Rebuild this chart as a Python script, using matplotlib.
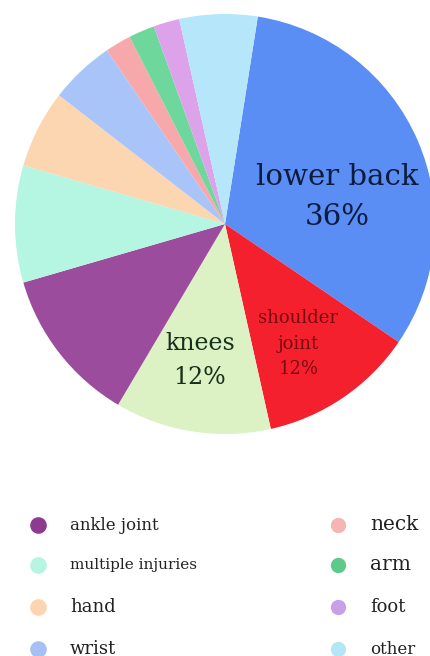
import matplotlib.pyplot as plt

# injury share by body part (slice sizes)
parts = ["lower back", "shoulder joint", "knees", "ankle joint", "multiple injuries",
         "hand", "wrist", "neck", "arm", "foot", "other"]
shares = [32, 12, 12, 12, 9, 6, 5, 2, 2, 2, 6]
colors = ["#5a8ef5", "#f5202e", "#dcf2c4", "#9c4c9c", "#b4f6e2",
          "#fcd6b0", "#a8c4f8", "#f7a8ab", "#6ed89c", "#dca2ea", "#b5e6fa"]

# labels printed inside the big slices
slice_labels = ["lower back\n36%", "shoulder\njoint\n12%", "knees\n12%"]

# legend entries
legend_left = ["ankle joint", "multiple injuries", "hand", "wrist"]
legend_right = ["neck", "arm", "foot", "other"]
legend_left_colors = ["#8e3a8e", "#b5f5e2", "#fcd5b0", "#a5c0f5"]
legend_right_colors = ["#f5b5b5", "#5acb8a", "#c9a0e8", "#b5e6f5"]

plt.rcParams['font.family'] = ['DejaVu Serif']

fig = plt.figure(figsize=(4.31, 6.56), dpi=100)

# pie, centre at about (225, 224) px with radius 210 px
ax = fig.add_axes([15 / 431, 222 / 656, 420 / 431, 420 / 656])
wedges, _ = ax.pie(shares, colors=colors, startangle=81, counterclock=False,
                   radius=1, wedgeprops=dict(linewidth=0))
ax.set_xlim(-1, 1)
ax.set_ylim(-1, 1)
ax.set_aspect('equal')
ax.axis('off')

ax.text(0.535, 0.13, slice_labels[0], ha='center', va='center', fontsize=21,
        color="#0d1b3d", linespacing=1.55)
ax.text(0.35, -0.57, slice_labels[1], ha='center', va='center', fontsize=13,
        color="#7a0a10", linespacing=1.55)
ax.text(-0.12, -0.65, slice_labels[2], ha='center', va='center', fontsize=17,
        color="#17301a", linespacing=1.6)

# legend drawn on its own axes in pixel-like coordinates
lax = fig.add_axes([0, 0, 1, 150 / 656])
lax.set_xlim(0, 431)
lax.set_ylim(150, 0)
lax.axis('off')

rows = [19, 59, 101, 143]
left_sizes = [12, 11, 13, 13]
right_sizes = [14.5, 14.5, 13, 12]
for i, name in enumerate(legend_left):
    lax.scatter(38, rows[i], s=120, color=legend_left_colors[i], clip_on=False)
    lax.text(70, rows[i], name, va='center', fontsize=left_sizes[i], color="#222222")
for i, name in enumerate(legend_right):
    lax.scatter(338, rows[i], s=100, color=legend_right_colors[i], clip_on=False)
    lax.text(370, rows[i], name, va='center', fontsize=right_sizes[i], color="#222222")

fig.savefig("out.png", dpi=100)
